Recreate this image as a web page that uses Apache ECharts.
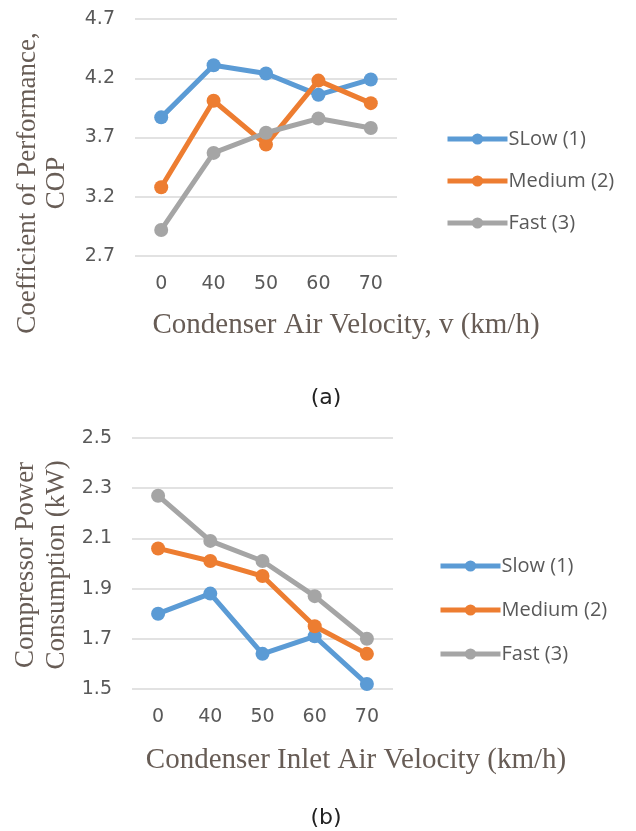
<!DOCTYPE html>
<html>
<head>
<meta charset="utf-8">
<script src="https://cdn.jsdelivr.net/npm/echarts@6/dist/echarts.min.js"></script>
<style>
    html, body { margin: 0; padding: 0; background: #fff; }
    #chart { width: 636px; height: 831px; }
</style>
</head>
<body>
<div id="chart"></div>
<script>
// x categories (shared by both panels)
const velocities = ['0', '40', '50', '60', '70']

// panel (a): COP
const copSlow = [3.87, 4.31, 4.24, 4.06, 4.19]
const copMedium = [3.28, 4.01, 3.64, 4.18, 3.99]
const copFast = [2.92, 3.57, 3.74, 3.86, 3.78]

// panel (b): compressor power (kW)
const powSlow = [1.80, 1.88, 1.64, 1.71, 1.52]
const powMedium = [2.06, 2.01, 1.95, 1.75, 1.64]
const powFast = [2.27, 2.09, 2.01, 1.87, 1.70]

const namesA = ['SLow (1)', 'Medium (2)', 'Fast (3)']
const namesB = ['Slow (1)', 'Medium (2)', 'Fast (3)']
const colors = ['#5b9bd5', '#ed7d31', '#a5a5a5']

const labelFont = 'DejaVu Sans'
const serif = 'Liberation Serif'
const textGrey = '#595959'
const titleColor = '#675c55'

const chart = echarts.init(document.getElementById('chart'))

const xAxisCommon = {
    type: 'category',
    data: velocities,
    axisLine: { show: false },
    axisTick: { show: false },
    axisLabel: { color: textGrey, fontSize: 19, fontFamily: labelFont, margin: 19 }
}
const yAxisCommon = {
    type: 'value',
    axisLine: { show: false },
    axisTick: { show: false },
    splitLine: { lineStyle: { color: '#d9d9d9', width: 1.5 } },
    axisLabel: {
        color: textGrey, fontSize: 19, fontFamily: labelFont, margin: 20,
        formatter: v => v.toFixed(1)
    }
}

const mkSeries = (name, data, i, idx) => ({
    name: name,
    type: 'line',
    xAxisIndex: idx,
    yAxisIndex: idx,
    data: data,
    color: colors[i],
    symbol: 'circle',
    symbolSize: 14,
    lineStyle: { width: 5 },
    emphasis: { disabled: true }
})

const legendCommon = {
    orient: 'vertical',
    itemWidth: 60,
    itemHeight: 14,
    lineStyle: { width: 5 },
    textStyle: { color: textGrey, fontSize: 20, fontFamily: 'Open Sans', padding: [0, 0, 0, -4] }
}

chart.setOption({
    animation: false,
    grid: [
        { left: 135, width: 262, top: 19, height: 237 },
        { left: 132, width: 261, top: 438, height: 251 }
    ],
    xAxis: [
        Object.assign({ gridIndex: 0 }, xAxisCommon),
        Object.assign({ gridIndex: 1 }, xAxisCommon)
    ],
    yAxis: [
        Object.assign({ gridIndex: 0, min: 2.7, max: 4.7, interval: 0.5 }, yAxisCommon),
        Object.assign({ gridIndex: 1, min: 1.5, max: 2.5, interval: 0.2 }, yAxisCommon)
    ],
    legend: [
        Object.assign({ left: 440, top: 124, itemGap: 22, data: namesA }, legendCommon),
        Object.assign({ left: 433, top: 551, itemGap: 24, data: namesB }, legendCommon)
    ],
    series: [
        mkSeries(namesA[0], copSlow, 0, 0),
        mkSeries(namesA[1], copMedium, 1, 0),
        mkSeries(namesA[2], copFast, 2, 0),
        mkSeries(namesB[0], powSlow, 0, 1),
        mkSeries(namesB[1], powMedium, 1, 1),
        mkSeries(namesB[2], powFast, 2, 1)
    ],
    graphic: [
        // panel (a) axis titles
        {
            type: 'text', x: 346, y: 325,
            style: { text: 'Condenser Air Velocity, v (km/h)', font: '29px ' + serif, fill: titleColor, align: 'center', verticalAlign: 'middle' }
        },
        {
            type: 'text', x: 42, y: 183, rotation: Math.PI / 2,
            style: { text: 'Coefficient of Performance,\nCOP', font: '27px ' + serif, fill: titleColor, align: 'center', verticalAlign: 'middle', lineHeight: 29 }
        },
        {
            type: 'text', x: 326, y: 398,
            style: { text: '(a)', font: '22px ' + labelFont, fill: '#222', align: 'center', verticalAlign: 'middle' }
        },
        // panel (b) axis titles
        {
            type: 'text', x: 356, y: 760,
            style: { text: 'Condenser Inlet Air Velocity (km/h)', font: '29px ' + serif, fill: titleColor, align: 'center', verticalAlign: 'middle' }
        },
        {
            type: 'text', x: 41, y: 565, rotation: Math.PI / 2,
            style: { text: 'Compressor Power\nConsumption (kW)', font: '27px ' + serif, fill: titleColor, align: 'center', verticalAlign: 'middle', lineHeight: 31 }
        },
        {
            type: 'text', x: 326, y: 818,
            style: { text: '(b)', font: '22px ' + labelFont, fill: '#222', align: 'center', verticalAlign: 'middle' }
        }
    ]
})

window.addEventListener('resize', () => chart.resize())
</script>
</body>
</html>
